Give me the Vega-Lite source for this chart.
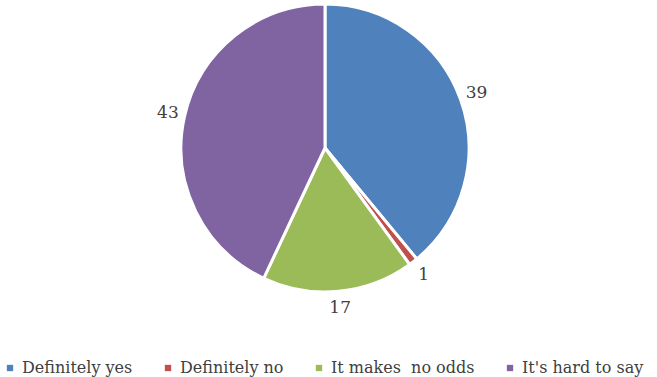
{
  "$schema": "https://vega.github.io/schema/vega-lite/v6.json",
  "width": 650,
  "height": 296,
  "autosize": "none",
  "padding": {"left": 0, "top": 0, "right": 7, "bottom": 81},
  "background": "white",
  "config": {"view": {"stroke": null}},
  "data": {"values": [
    {"cat": "Definitely yes", "v": 39, "o": 1},
    {"cat": "Definitely no", "v": 1, "o": 2},
    {"cat": "It makes\u00a0 no odds", "v": 17, "o": 3},
    {"cat": "It's hard to say", "v": 43, "o": 4}
  ]},
  "encoding": {
    "theta": {"field": "v", "type": "quantitative", "stack": true},
    "order": {"field": "o", "type": "quantitative"},
    "color": {
      "field": "cat", "type": "nominal",
      "scale": {"domain": ["Definitely yes", "Definitely no", "It makes\u00a0 no odds", "It's hard to say"],
                "range": ["#4F81BD", "#C0504D", "#9BBB59", "#8064A2"]},
      "legend": {
        "title": null, "orient": "none", "legendX": 2, "legendY": 360,
        "direction": "horizontal", "columns": 4, "columnPadding": 27,
        "symbolType": "square", "symbolSize": 40, "symbolStrokeWidth": 0,
        "labelFont": "DejaVu Serif", "labelFontSize": 16, "labelColor": "#404040",
        "labelOffset": 4, "labelLimit": 300
      }
    }
  },
  "layer": [
    {"mark": {"type": "arc", "outerRadius": 144, "stroke": "white", "strokeWidth": 3}},
    {"mark": {"type": "text", "radius": 161, "fontSize": 17, "font": "DejaVu Serif", "color": "#404040"},
     "encoding": {"text": {"field": "v", "type": "quantitative"}, "color": {"value": "#404040"}}}
  ]
}
